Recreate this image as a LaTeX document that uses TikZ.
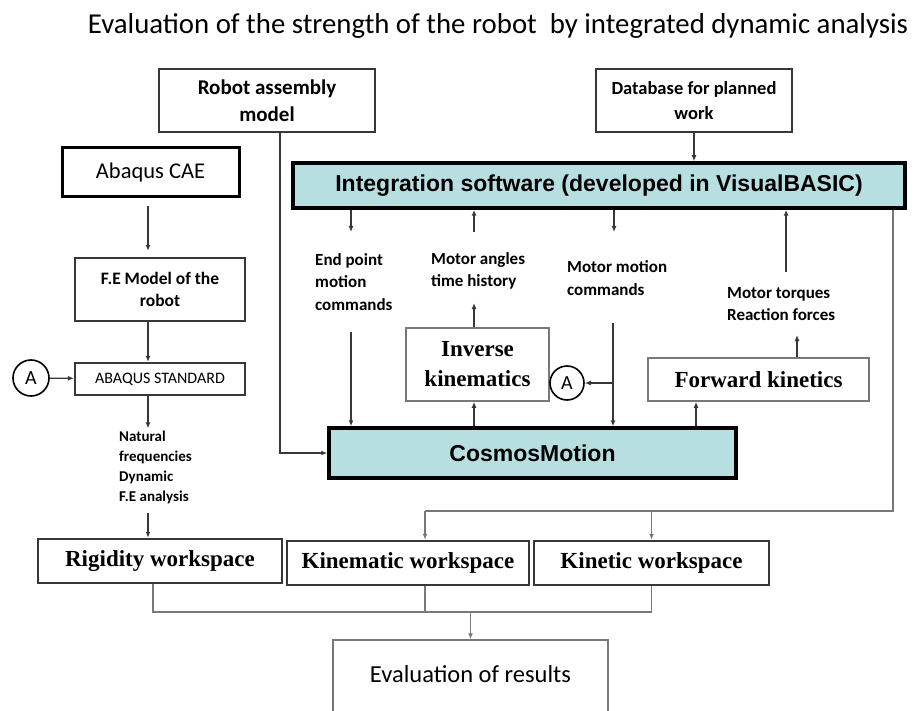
\documentclass[tikz,border=0pt]{standalone}
\usepackage{fontspec}
\setmainfont{Carlito}
\newfontfamily\tnr{Liberation Serif}
\newfontfamily\arl{Liberation Sans}
\usetikzlibrary{arrows.meta,calc}
\definecolor{cyanfill}{RGB}{183,223,225}
\definecolor{dline}{RGB}{55,55,55}
\definecolor{gline}{RGB}{120,120,120}
\begin{document}
\begin{tikzpicture}[x=1pt,y=-1pt,
  box/.style={draw=dline,line width=2.2pt,fill=white,inner sep=0pt,align=center},
  thinbox/.style={draw=gline,line width=1.5pt,fill=white,inner sep=0pt,align=center},
  heavybox/.style={draw=black,line width=3.5pt,fill=cyanfill,inner sep=0pt,align=center},
  circA/.style={draw=black,circle,line width=1.6pt,minimum size=36pt,inner sep=0pt,font=\fontsize{20}{24}\selectfont},
  lbl/.style={anchor=west,align=left,inner sep=0pt,font=\fontsize{17}{22.5}\selectfont\bfseries},
  serifb/.style={font=\fontsize{23}{30}\selectfont\tnr\bfseries},
  arr/.style={draw=dline,line width=1.3pt,-{Latex[length=6pt,width=5pt]}},
  conn/.style={draw=gline,line width=1.5pt},
  garr/.style={draw=gline,line width=1.5pt,-{Latex[length=6pt,width=5pt]}}
]
\useasboundingbox (0,0) rectangle (915,711);
\clip (0,0) rectangle (915,711);

% title
\node[inner sep=0pt,font=\fontsize{28.8}{32}\selectfont] (title) at (498,26) {Evaluation of the strength of the robot\ \ by integrated dynamic analysis};

% left column
\node[box,minimum width=216pt,minimum height=63pt,font=\fontsize{21}{27}\selectfont\bfseries] (ram) at (267,100.5) {Robot assembly\\model};
\node[box,draw=black,line width=3pt,minimum width=177pt,minimum height=49pt,font=\fontsize{22.5}{27}\selectfont] (cae) at (150.5,172.5) {Abaqus CAE};
\node[box,minimum width=170pt,minimum height=63pt,font=\fontsize{17.5}{22}\selectfont\bfseries] (fem) at (160,289.5) {F.E Model of the\\robot};
\node[box,minimum width=170pt,minimum height=32pt,font=\fontsize{16}{20}\selectfont] (std) at (160,379) {ABAQUS STANDARD};
\node[circA] (A1) at (31,378) {A};
\node[lbl,font=\fontsize{15}{20}\selectfont\bfseries] (nat) at (119,467) {Natural\\frequencies\\Dynamic\\F.E analysis};

% top right
\node[box,minimum width=196pt,minimum height=63pt,font=\fontsize{18.5}{25}\selectfont\bfseries] (db) at (694,100.5) {Database for planned\\work};
\node[heavybox,minimum width=612pt,minimum height=45pt,font=\fontsize{23}{28}\selectfont\arl\bfseries] (integ) at (599,185.5) {Integration software (developed in VisualBASIC)};

% labels
\node[lbl] (ep) at (315,282) {End point\\motion\\commands};
\node[lbl] (ma) at (431,271) {Motor angles\\time history};
\node[lbl] (mm) at (567,278) {Motor motion\\commands};
\node[lbl] (mt) at (727,304) {Motor torques\\Reaction forces};

% middle
\node[thinbox,minimum width=143pt,minimum height=73pt,serifb] (inv) at (477.5,364.5) {Inverse\\kinematics};
\node[circA,minimum size=34pt] (A2) at (567,383) {A};
\node[thinbox,minimum width=221pt,minimum height=43pt,serifb] (fwd) at (758.5,379.5) {Forward kinetics};
\node[heavybox,minimum width=407pt,minimum height=50pt,font=\fontsize{23}{28}\selectfont\arl\bfseries] (cosmos) at (532.5,453) {CosmosMotion};

% workspaces
\node[box,line width=2.5pt,minimum width=244pt,minimum height=44pt,serifb] (rig) at (160,561) {Rigidity workspace};
\node[box,line width=2.5pt,minimum width=242pt,minimum height=44pt,serifb] (kinem) at (408,563) {Kinematic workspace};
\node[box,line width=2.5pt,minimum width=235pt,minimum height=44pt,serifb] (kinet) at (651.5,563) {Kinetic workspace};

% evaluation
\node[thinbox,minimum width=275pt,minimum height=140pt] (evalbox) at (470.5,710) {};
\node[inner sep=0pt,font=\fontsize{24.5}{28}\selectfont] (evalt) at (470.5,674) {Evaluation of results};

% coordinates for free ends
\coordinate (lx) at (148,0);
\coordinate (c1) at (351,232);
\coordinate (c2) at (474,232);
\coordinate (c3) at (614,232);
\coordinate (c4) at (786,272);
\coordinate (c5) at (351,332);
\coordinate (c6) at (474,303);
\coordinate (c7) at (613,323);
\coordinate (c8) at (797,335);
\coordinate (c9) at (893,511);
\coordinate (fx) at (696,0);
\coordinate (kx) at (425,612);

% left column connectors
\draw[arr] ([yshift=-8pt]cae.south -| lx) -- ([yshift=6pt]fem.north -| lx);
\draw[arr] (fem.south -| lx) -- (std.north -| lx);
\draw[arr] (A1) -- (std);
\draw[arr] (std.south -| lx) -- ([yshift=2pt]nat.north -| lx);
\draw[arr] ([yshift=-9pt]nat.south -| lx) -- (rig.north -| lx);

% robot assembly to cosmos
\draw[arr] ([xshift=13pt]ram.south) |- (cosmos.west);
% database to integration
\draw[arr] (db.south) -- (db.south |- integ.north);

% integration connectors
\draw[arr] (integ.south -| c1) -- (c1);
\draw[arr] (c2) -- (integ.south -| c2);
\draw[arr] (integ.south -| c3) -- (c3);
\draw[arr] (c4) -- (integ.south -| c4);

% middle connectors
\draw[arr] (c5) -- (cosmos.north -| c5);
\draw[arr] (inv.north -| c6) -- (c6);
\draw[arr] (cosmos.north -| c6) -- (inv.south -| c6);
\draw[arr] (c7) -- (cosmos.north -| c7);
\draw[arr] (c7 |- A2) -- (A2.east);
\draw[arr] (cosmos.north -| fx) -- (fwd.south -| fx);
\draw[arr] (fwd.north -| c8) -- (c8);

% return to workspaces
\draw[conn] (integ.south -| c9) -- (c9) -- (c9 -| kx);
\draw[garr] (c9 -| kx) -- (kinem.north -| kx);
\draw[garr] (c9 -| kinet) -- (kinet.north);

% bottom
\draw[conn] ([xshift=-7pt]rig.south) -- ([xshift=-7pt]rig.south |- kx) -| (kinet.south);
\draw[conn] (kinem.south -| kx) -- (kx);
\draw[garr] (evalbox.north |- kx) -- (evalbox.north);
\end{tikzpicture}
\end{document}
